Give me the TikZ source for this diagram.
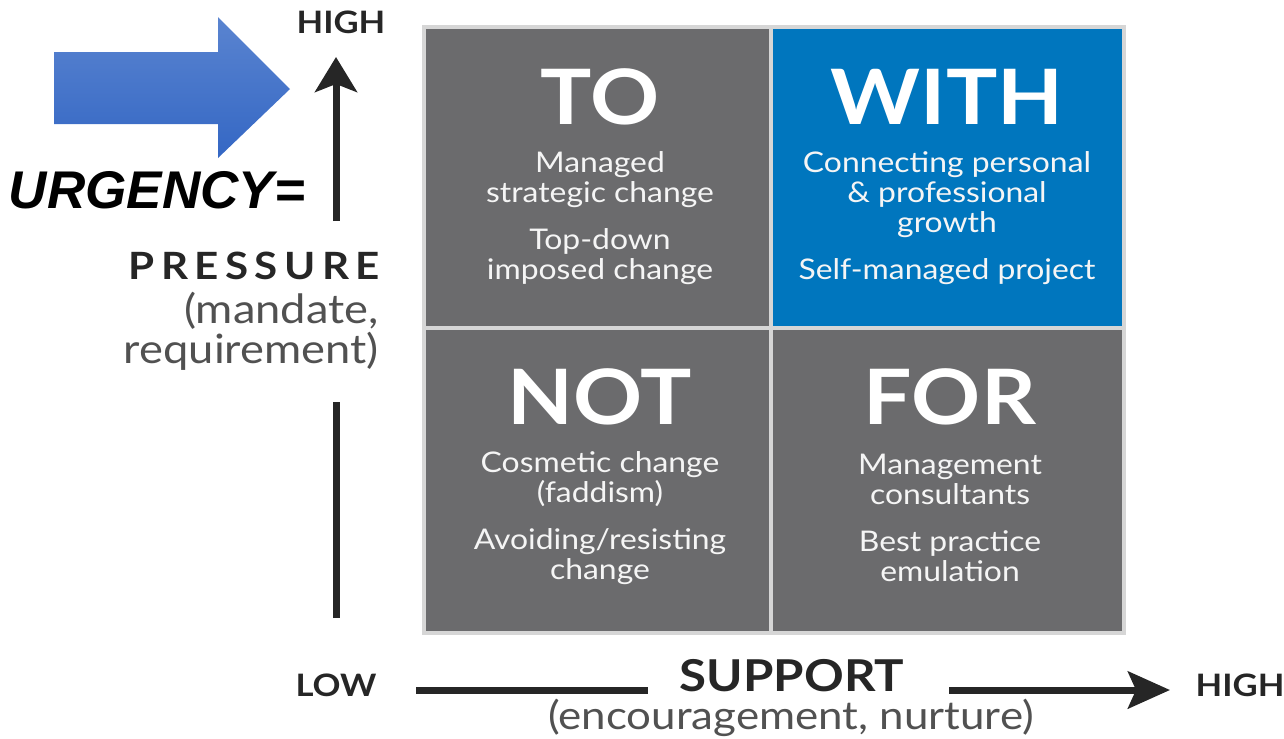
\documentclass[tikz,border=0pt]{standalone}
\usepackage{fontspec}
\setmainfont{Lato}[FakeStretch=1.12]
\newfontfamily\spacedfont{Lato}[FakeStretch=1.12, LetterSpace=17]
\newfontfamily\arialfont{Liberation Sans}
\usetikzlibrary{arrows.meta}
\usetikzlibrary{shapes}

\definecolor{quadgray}{HTML}{6B6B6D}
\definecolor{quadblue}{HTML}{0076BE}
\definecolor{quadline}{HTML}{D6D6D6}
\definecolor{axisink}{HTML}{262626}
\definecolor{arrowtop}{HTML}{5A84D0}
\definecolor{arrowbot}{HTML}{3467C4}

\tikzset{
    cell/.style={draw=quadline, line width=0.07cm, inner sep=0, minimum height=6.02cm},
    quadtitle/.style={text=white, inner sep=0, font=\fontsize{43.5}{44}\selectfont\bfseries},
    quadtext/.style={text=white!92!gray, inner sep=0, align=center, font=\fontsize{16.2}{17}\selectfont},
    axislabel/.style={text=axisink, inner sep=0, font=\fontsize{17.6}{18}\selectfont\bfseries},
    axisline/.style={draw=axisink, line width=0.14cm},
    subtitle/.style={text=axisink!80, inner sep=0, font=\fontsize{23}{22.7}\selectfont}
}

\begin{document}
\begin{tikzpicture}[x=0.02cm, y=-0.02cm]

    \useasboundingbox (0,0) rectangle (1284,738);

    % Declare the quadrants
    \node[cell, fill=quadgray, minimum width=6.94cm] at (597.5, 177.5) (tocell) {};
    \node[cell, fill=quadblue, minimum width=7.06cm] at (947.5, 177.5) (withcell) {};
    \node[cell, fill=quadgray, minimum width=6.94cm, minimum height=6.1cm] at (597.5, 480.5) (notcell) {};
    \node[cell, fill=quadgray, minimum width=7.06cm, minimum height=6.1cm] at (947.5, 480.5) (forcell) {};

    % Declare the quadrant texts
    \node[quadtitle] at (600, 97) (totitle) {TO};
    \node[quadtitle] at (947, 97) (withtitle) {WITH};
    \node[quadtitle] at (600, 397) (nottitle) {NOT};
    \node[quadtitle] at (950, 397) (fortitle) {FOR};
    \node[quadtext] at (600, 218) (totext) {Managed\\strategic change\\[10pt]Top-down\\imposed change};
    \node[quadtext] at (947, 218) (withtext) {Connecting personal\\\& professional\\growth\\[10pt]Self-managed project};
    \node[quadtext] at (600, 518) (nottext) {Cosmetic change\\(faddism)\\[10pt]Avoiding/resisting\\change};
    \node[quadtext] at (950, 518) (fortext) {Management\\consultants\\[10pt]Best practice\\emulation};

    % Declare the pressure axis
    \node[axislabel] at (341, 22) (yhigh) {HIGH};
    \node[text=axisink, inner sep=0, anchor=east, font=\spacedfont\fontsize{21.4}{22}\selectfont\bfseries] at (380, 266) (pressure) {PRESSURE};
    \node[subtitle, anchor=east, align=right] at (379, 331) (pressuresub) {(mandate,\\requirement)};
    \coordinate (ytop) at (336, 57);
    \coordinate (yshaft) at (336, 221);
    \coordinate (ylowtop) at (336, 402);
    \coordinate (ylow) at (336, 618);
    \draw[axisline, -{Stealth[length=0.7cm, width=0.84cm, inset=0.16cm]}] (yshaft) -- (ytop);
    \draw[axisline] (ylow) -- (ylowtop);

    % Declare the urgency marker
    \shade[top color=arrowtop, bottom color=arrowbot] (54, 52) -- (218, 52) -- (218, 17) -- (290, 89)
        -- (218, 158) -- (218, 124) -- (54, 124) -- cycle;
    \node[inner sep=0, font=\arialfont\fontsize{30.2}{31}\selectfont\bfseries\itshape] at (157, 190) (urgency) {URGENCY=};

    % Declare the support axis
    \node[axislabel] at (336, 685) (xlow) {LOW};
    \node[axislabel] at (1240, 685) (xhigh) {HIGH};
    \node[text=axisink, inner sep=0, font=\fontsize{25}{26}\selectfont\bfseries] at (792, 676) (support) {SUPPORT};
    \node[subtitle, font=\fontsize{22.3}{23}\selectfont] at (791, 718) (supportsub) {(encouragement, nurture)};
    \coordinate (xstart) at (416, 690);
    \coordinate (xgap) at (648, 690);
    \coordinate (xresume) at (949, 690);
    \coordinate (xtip) at (1170, 690);
    \draw[axisline] (xstart) -- (xgap);
    \draw[axisline, -{Stealth[length=0.84cm, width=0.74cm, inset=0.16cm]}] (xresume) -- (xtip);

\end{tikzpicture}
\end{document}
